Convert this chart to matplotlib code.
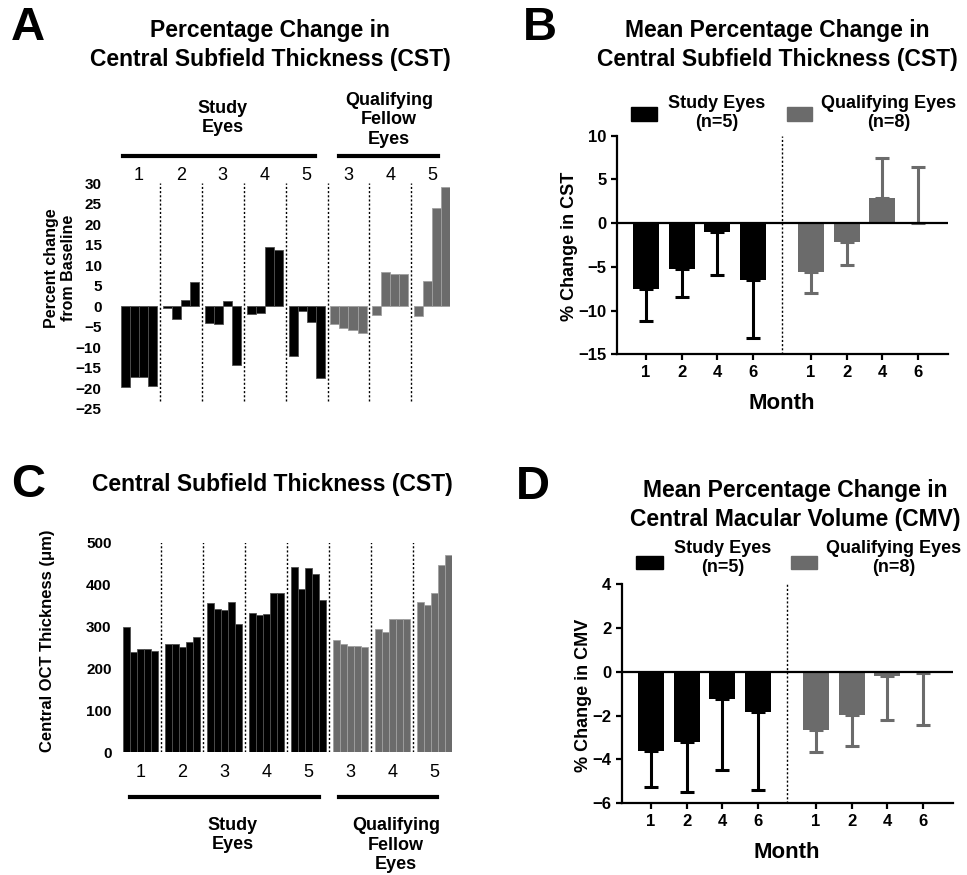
import matplotlib
matplotlib.use('Agg')
import matplotlib.pyplot as plt
from matplotlib.patches import Rectangle
from matplotlib.lines import Line2D
import numpy as np

plt.rcParams['font.family'] = ['Liberation Sans', 'DejaVu Sans']

# ---- data ----
group_labels = ['1', '2', '3', '4', '5', '3', '4', '5']
n_study = 5

# panel A: % change from baseline, months 1, 2, 4, 6 per eye
pct_change = [
    [-19.7, -17.2, -17.2, -19.3],
    [-0.3, -3.0, 1.5, 5.9],
    [-4.0, -4.2, 1.3, -14.2],
    [-1.8, -1.5, 14.5, 13.7],
    [-12.2, -1.0, -3.7, -17.4],
    [-4.2, -5.3, -5.7, -6.5],
    [-2.1, 8.3, 8.0, 8.0],
    [-2.4, 6.1, 24.1, 29.1],
]

# panel C: CST (um), baseline + months 1, 2, 4, 6 per eye
cst = [
    [300, 240, 247, 246, 242],
    [258, 258, 252, 262, 274],
    [355, 343, 340, 359, 305],
    [333, 328, 329, 381, 379],
    [442, 389, 439, 425, 364],
    [268, 258, 254, 254, 252],
    [294, 288, 318, 317, 317],
    [359, 352, 379, 447, 471],
]

months = ['1', '2', '4', '6']
# panel B: mean % change in CST and SD
cst_study_mean = [-7.55, -5.3, -1.0, -6.5]
cst_study_sd = [3.65, 3.1, 4.9, 6.6]
cst_fellow_mean = [-5.6, -2.1, 2.9, 0.05]
cst_fellow_sd = [2.4, 2.7, 4.5, 6.35]
# panel D: mean % change in CMV and SD
cmv_study_mean = [-3.63, -3.22, -1.25, -1.84]
cmv_study_sd = [1.64, 2.27, 3.22, 3.54]
cmv_fellow_mean = [-2.67, -1.98, -0.18, -0.08]
cmv_fellow_sd = [1.01, 1.42, 2.01, 2.34]

BLACK = '#000000'
GRAY = '#6b6b6b'

W, H = 967, 875
fig = plt.figure(figsize=(W / 100, H / 100), dpi=100)


def box(x0, y0, x1, y1):
    # pixel coords with origin at top-left -> figure fraction rect
    return [x0 / W, 1 - y1 / H, (x1 - x0) / W, (y1 - y0) / H]


def ftext(x, y, s, **kw):
    kw.setdefault('ha', 'center')
    kw.setdefault('va', 'center')
    fig.text(x / W, 1 - y / H, s, **kw)


def fline(x0, x1, y, lw=3):
    fig.add_artist(Line2D([x0 / W, x1 / W], [1 - y / H, 1 - y / H],
                          color='k', lw=lw, transform=fig.transFigure))


def frect(x0, y0, x1, y1, color):
    fig.add_artist(Rectangle((x0 / W, 1 - y1 / H), (x1 - x0) / W, (y1 - y0) / H,
                             color=color, transform=fig.transFigure))


dotted = (0, (1.5, 1.5))
TITLE = 16.5
SUB = 13

# ---------------- panel A ----------------
axA = fig.add_axes(box(121, 183.3, 450.3, 409))
gapA = 0.65
stepA = 4 + gapA
for g, vals in enumerate(pct_change):
    x = g * stepA + np.arange(len(vals)) + 0.5
    c = BLACK if g < n_study else GRAY
    ec = '#505050' if g < n_study else '#a0a0a0'
    axA.bar(x, vals, width=1.0, color=c, edgecolor=ec, linewidth=0.6)
    axA.text(g * stepA + 2, 31.8, group_labels[g], ha='center', va='center',
             fontsize=13, clip_on=False)
for g in range(1, len(pct_change)):
    axA.vlines(g * stepA - gapA / 2, -23, 30, colors='k', lw=1, linestyles=dotted)
axA.set_xlim(0, len(pct_change) * stepA - gapA)
axA.set_ylim(-25, 30)
axA.set_yticks(range(-25, 31, 5))
axA.set_xticks([])
for s in axA.spines.values():
    s.set_visible(False)
axA.tick_params(axis='y', length=0, pad=14, labelsize=11)
for t in axA.get_yticklabels():
    t.set_fontweight('bold')

ftext(28, 28, 'A', fontsize=34, fontweight='bold')
ftext(270, 45, 'Percentage Change in\nCentral Subfield Thickness (CST)',
      fontsize=TITLE, fontweight='bold', linespacing=1.3)
ftext(223, 118, 'Study\nEyes', fontsize=SUB, fontweight='bold')
ftext(389, 120, 'Qualifying\nFellow\nEyes', fontsize=SUB, fontweight='bold')
fline(123, 315, 155.7)
fline(339, 438, 155.7)
ftext(60, 268, 'Percent change\nfrom Baseline', rotation=90, fontsize=11.5,
      fontweight='bold')

# ---------------- panel C ----------------
axC = fig.add_axes(box(122.7, 542.7, 451.7, 752.3))
gapC = 1.0
stepC = 5 + gapC
for g, vals in enumerate(cst):
    x = g * stepC + np.arange(len(vals)) + 0.5
    c = BLACK if g < n_study else GRAY
    ec = '#505050' if g < n_study else '#a0a0a0'
    axC.bar(x, vals, width=1.0, color=c, edgecolor=ec, linewidth=0.6)
    axC.text(g * stepC + 2.5, -47, group_labels[g], ha='center', va='center',
             fontsize=13, clip_on=False)
for g in range(1, len(cst)):
    axC.vlines(g * stepC - gapC / 2, 0, 505, colors='k', lw=1, linestyles=dotted)
axC.set_xlim(0, len(cst) * stepC - gapC)
axC.set_ylim(0, 500)
axC.set_yticks(range(0, 501, 100))
axC.set_xticks([])
for s in axC.spines.values():
    s.set_visible(False)
axC.tick_params(axis='y', length=0, pad=8, labelsize=11)
for t in axC.get_yticklabels():
    t.set_fontweight('bold')

ftext(28, 485, 'C', fontsize=34, fontweight='bold')
ftext(272, 485, 'Central Subfield Thickness (CST)', fontsize=TITLE, fontweight='bold')
fline(130, 319, 797.3)
fline(339, 437, 797.3)
ftext(233, 835, 'Study\nEyes', fontsize=SUB, fontweight='bold')
ftext(396, 845, 'Qualifying\nFellow\nEyes', fontsize=SUB, fontweight='bold')
ftext(48, 641, 'Central OCT Thickness (\u03bcm)', rotation=90, fontsize=12,
      fontweight='bold')


# ---------------- panels B and D ----------------
def mean_panel(rect, s_mean, s_sd, f_mean, f_sd, ylim, yticks):
    ax = fig.add_axes(rect)
    xs = np.arange(len(months))
    xf = xs + 4.62
    for x, m, sd, c in [(xs, s_mean, s_sd, BLACK), (xf, f_mean, f_sd, GRAY)]:
        m = np.array(m)
        sd = np.array(sd)
        yerr = np.vstack([np.where(m < 0, sd, 0), np.where(m >= 0, sd, 0)])
        ax.bar(x, m, width=0.73, color=c, yerr=yerr,
               error_kw=dict(ecolor=c, elinewidth=2.2, capsize=5, capthick=2.2))
    ax.axhline(0, color='k', lw=1.6, zorder=3)
    ax.axvline(3.81, color='k', lw=1, ls=dotted)
    ax.set_xlim(-0.82, 8.46)
    ax.set_ylim(*ylim)
    ax.set_yticks(yticks)
    ax.set_xticks(list(xs) + list(xf))
    ax.set_xticklabels(months + months)
    ax.spines['top'].set_visible(False)
    ax.spines['right'].set_visible(False)
    ax.spines['left'].set_linewidth(1.6)
    ax.spines['bottom'].set_linewidth(1.6)
    ax.tick_params(length=4, width=1.6, labelsize=12)
    for t in ax.get_xticklabels() + ax.get_yticklabels():
        t.set_fontweight('bold')
    return ax


axB = mean_panel(box(616.7, 135.7, 948, 354.3), cst_study_mean, cst_study_sd,
                 cst_fellow_mean, cst_fellow_sd, (-15, 10), range(-15, 11, 5))
ftext(540, 28, 'B', fontsize=34, fontweight='bold')
ftext(777, 45, 'Mean Percentage Change in\nCentral Subfield Thickness (CST)',
      fontsize=TITLE, fontweight='bold', linespacing=1.3)
frect(631, 107, 657, 121, BLACK)
frect(787, 107, 812, 121, GRAY)
ftext(717, 113, 'Study Eyes\n(n=5)', fontsize=SUB, fontweight='bold', linespacing=1.12)
ftext(889, 113, 'Qualifying Eyes\n(n=8)', fontsize=SUB, fontweight='bold', linespacing=1.12)
ftext(570, 246, '% Change in CST', rotation=90, fontsize=13, fontweight='bold')
ftext(782, 403, 'Month', fontsize=16, fontweight='bold')

axD = mean_panel(box(621.7, 584, 953, 803.3), cmv_study_mean, cmv_study_sd,
                 cmv_fellow_mean, cmv_fellow_sd, (-6, 4), range(-6, 5, 2))
ftext(533, 487, 'D', fontsize=34, fontweight='bold')
ftext(795, 505, 'Mean Percentage Change in\nCentral Macular Volume (CMV)',
      fontsize=TITLE, fontweight='bold', linespacing=1.3)
frect(636, 556, 663, 569, BLACK)
frect(791, 556, 817, 569, GRAY)
ftext(723, 558, 'Study Eyes\n(n=5)', fontsize=SUB, fontweight='bold', linespacing=1.12)
ftext(894, 558, 'Qualifying Eyes\n(n=8)', fontsize=SUB, fontweight='bold', linespacing=1.12)
ftext(583, 695, '% Change in CMV', rotation=90, fontsize=13, fontweight='bold')
ftext(787, 852, 'Month', fontsize=16, fontweight='bold')

fig.savefig('out.png', dpi=100)
